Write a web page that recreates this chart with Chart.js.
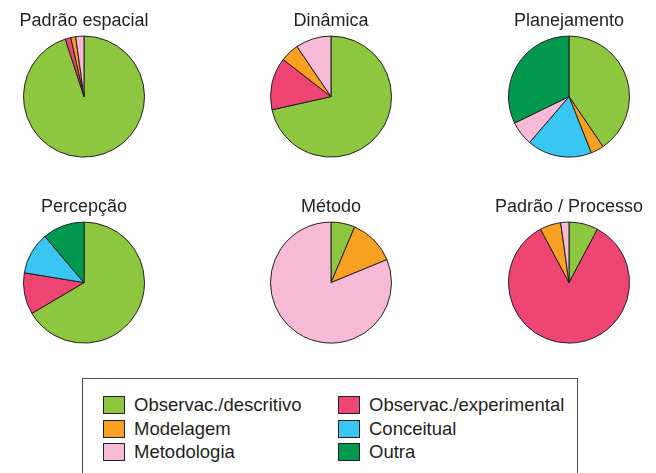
<!DOCTYPE html>
<html>
<head>
<meta charset="utf-8">
<script src="https://cdn.jsdelivr.net/npm/chart.js@4/dist/chart.umd.min.js"></script>
<style>
  html, body { margin: 0; padding: 0; background: #ffffff; }
  body { width: 656px; height: 473px; position: relative; overflow: hidden; font-family: "Liberation Sans", Arial, sans-serif; color: #231f20; }
  .pie { position: absolute; width: 170px; height: 162px; }
  #legend { position: absolute; left: 82px; top: 378px; width: 496px; height: 110px; border: 1.5px solid #4d4d4d; box-sizing: border-box; }
  .item { position: absolute; height: 24px; display: flex; align-items: center; font-size: 18.5px; white-space: nowrap; }
  .sw { width: 20px; height: 16px; border: 1px solid #231f20; margin-right: 9px; flex: none; }
</style>
</head>
<body>
<canvas id="c0" class="pie" width="170" height="162"></canvas>
<canvas id="c1" class="pie" width="170" height="162"></canvas>
<canvas id="c2" class="pie" width="170" height="162"></canvas>
<canvas id="c3" class="pie" width="170" height="162"></canvas>
<canvas id="c4" class="pie" width="170" height="162"></canvas>
<canvas id="c5" class="pie" width="170" height="162"></canvas>
<div id="legend"></div>
<script>
// ---- data (percent of studies per category) ----
const categories = ['Observac./descritivo', 'Observac./experimental', 'Modelagem', 'Conceitual', 'Metodologia', 'Outra'];
const colors = ['#8dc63f', '#ef4573', '#f7a021', '#39c6f2', '#f6bad6', '#00994d'];
const panelTitles = ['Padrão espacial', 'Dinâmica', 'Planejamento', 'Percepção', 'Método', 'Padrão / Processo'];

const padraoEspacial = [95.0, 1.5, 1.3, 0, 2.2, 0];
const dinamica       = [71.5, 14.0, 5.0, 0, 9.5, 0];
const planejamento   = [40.5, 0, 3.5, 17.3, 6.5, 32.2];
const percepcao      = [66.5, 11.1, 0, 11.2, 0, 11.2];
const metodo         = [6.4, 0, 12.4, 0, 81.2, 0];
const padraoProcesso = [7.8, 84.4, 5.6, 0, 2.2, 0];

const panelData = [padraoEspacial, dinamica, planejamento, percepcao, metodo, padraoProcesso];

// ---- layout ----
const colCenters = [83.5, 331, 569.2];
const rowTops = [3.7, 190.2];

panelData.forEach((vals, i) => {
  const cv = document.getElementById('c' + i);
  cv.style.left = (colCenters[i % 3] - 85) + 'px';
  cv.style.top = rowTops[Math.floor(i / 3)] + 'px';
  new Chart(cv, {
    type: 'pie',
    data: {
      labels: categories,
      datasets: [{
        data: vals,
        backgroundColor: colors,
        borderColor: '#231f20',
        borderWidth: (ctx) => (ctx.raw === 0 ? 0 : 1),
      }]
    },
    options: {
      responsive: false,
      animation: false,
      events: [],
      layout: { padding: { bottom: 8.4 } },
      plugins: {
        legend: { display: false },
        tooltip: { enabled: false },
        title: {
          display: true,
          text: panelTitles[i],
          color: '#231f20',
          font: { family: '"Liberation Sans", Arial, sans-serif', size: 18, weight: 'normal', lineHeight: 1.2 },
          padding: { top: 6, bottom: 4 }
        }
      }
    }
  });
});

// ---- legend ----
const legend = document.getElementById('legend');
const legCols = [20, 255];
const legRows = [14, 38, 61];
categories.forEach((name, i) => {
  const it = document.createElement('div');
  it.className = 'item';
  it.style.left = legCols[i % 2] + 'px';
  it.style.top = legRows[Math.floor(i / 2)] + 'px';
  const sw = document.createElement('div');
  sw.className = 'sw';
  sw.style.background = colors[i];
  const tx = document.createElement('span');
  tx.textContent = name;
  it.appendChild(sw);
  it.appendChild(tx);
  legend.appendChild(it);
});
</script>
</body>
</html>
